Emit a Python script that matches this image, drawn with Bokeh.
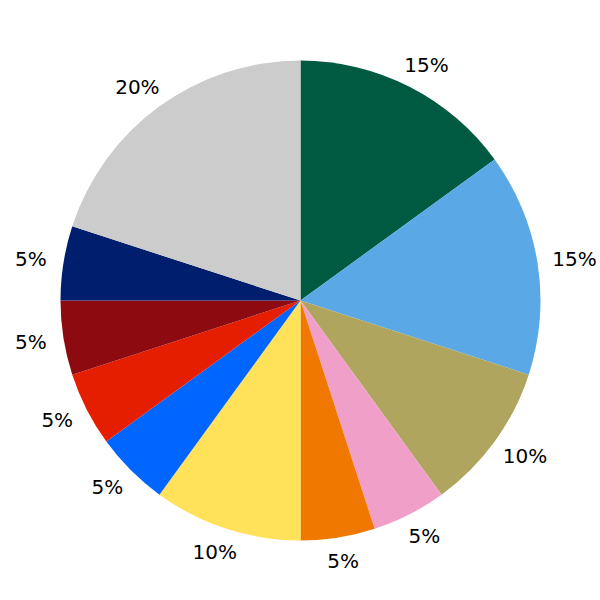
import math
from bokeh.plotting import figure
from bokeh.models import ColumnDataSource, Range1d
from bokeh.core.properties import value
from bokeh.embed import file_html
from bokeh.resources import INLINE

shares = [15, 15, 10, 5, 5, 10, 5, 5, 5, 5, 20]
labels = ["15%", "15%", "10%", "5%", "5%", "10%", "5%", "5%", "5%", "5%", "20%"]
colors = ["#005A41", "#5AA9E6", "#B0A55E", "#F0A0C8", "#F07800", "#FFE15A",
          "#0066FF", "#E61E00", "#8C0A10", "#001E6E", "#CCCCCC"]

R = 240
LR = 1.1 * R          # label distance
HW = 7.5              # approx half-width per character (px)
K = 0.6

total = sum(shares)
starts, ends, lx, ly = [], [], [], []
cum = 0
for s, lab in zip(shares, labels):
    a0 = math.pi / 2 - 2 * math.pi * cum / total
    cum += s
    a1 = math.pi / 2 - 2 * math.pi * cum / total
    starts.append(a1)
    ends.append(a0)
    mid = (a0 + a1) / 2
    rx = LR + K * HW * len(lab)
    lx.append(rx * math.cos(mid))
    ly.append(LR * math.sin(mid))

src = ColumnDataSource(dict(start=starts, end=ends, color=colors, lx=lx, ly=ly, label=labels))

p = figure(width=600, height=600, output_backend="svg", toolbar_location=None,
           x_range=Range1d(-300, 300), y_range=Range1d(-300, 300), min_border=0)
p.axis.visible = False
p.grid.visible = False
p.outline_line_color = None
p.background_fill_color = "white"

p.wedge(x=0, y=0, radius=R, start_angle="start", end_angle="end",
        fill_color="color", line_color=None, source=src)
p.text(x="lx", y="ly", text="label", source=src, text_align="center",
       text_baseline="middle", text_font=value("DejaVu Sans"),
       text_font_size="20px", text_color="black")

open("out.html", "w").write(file_html(p, INLINE))
